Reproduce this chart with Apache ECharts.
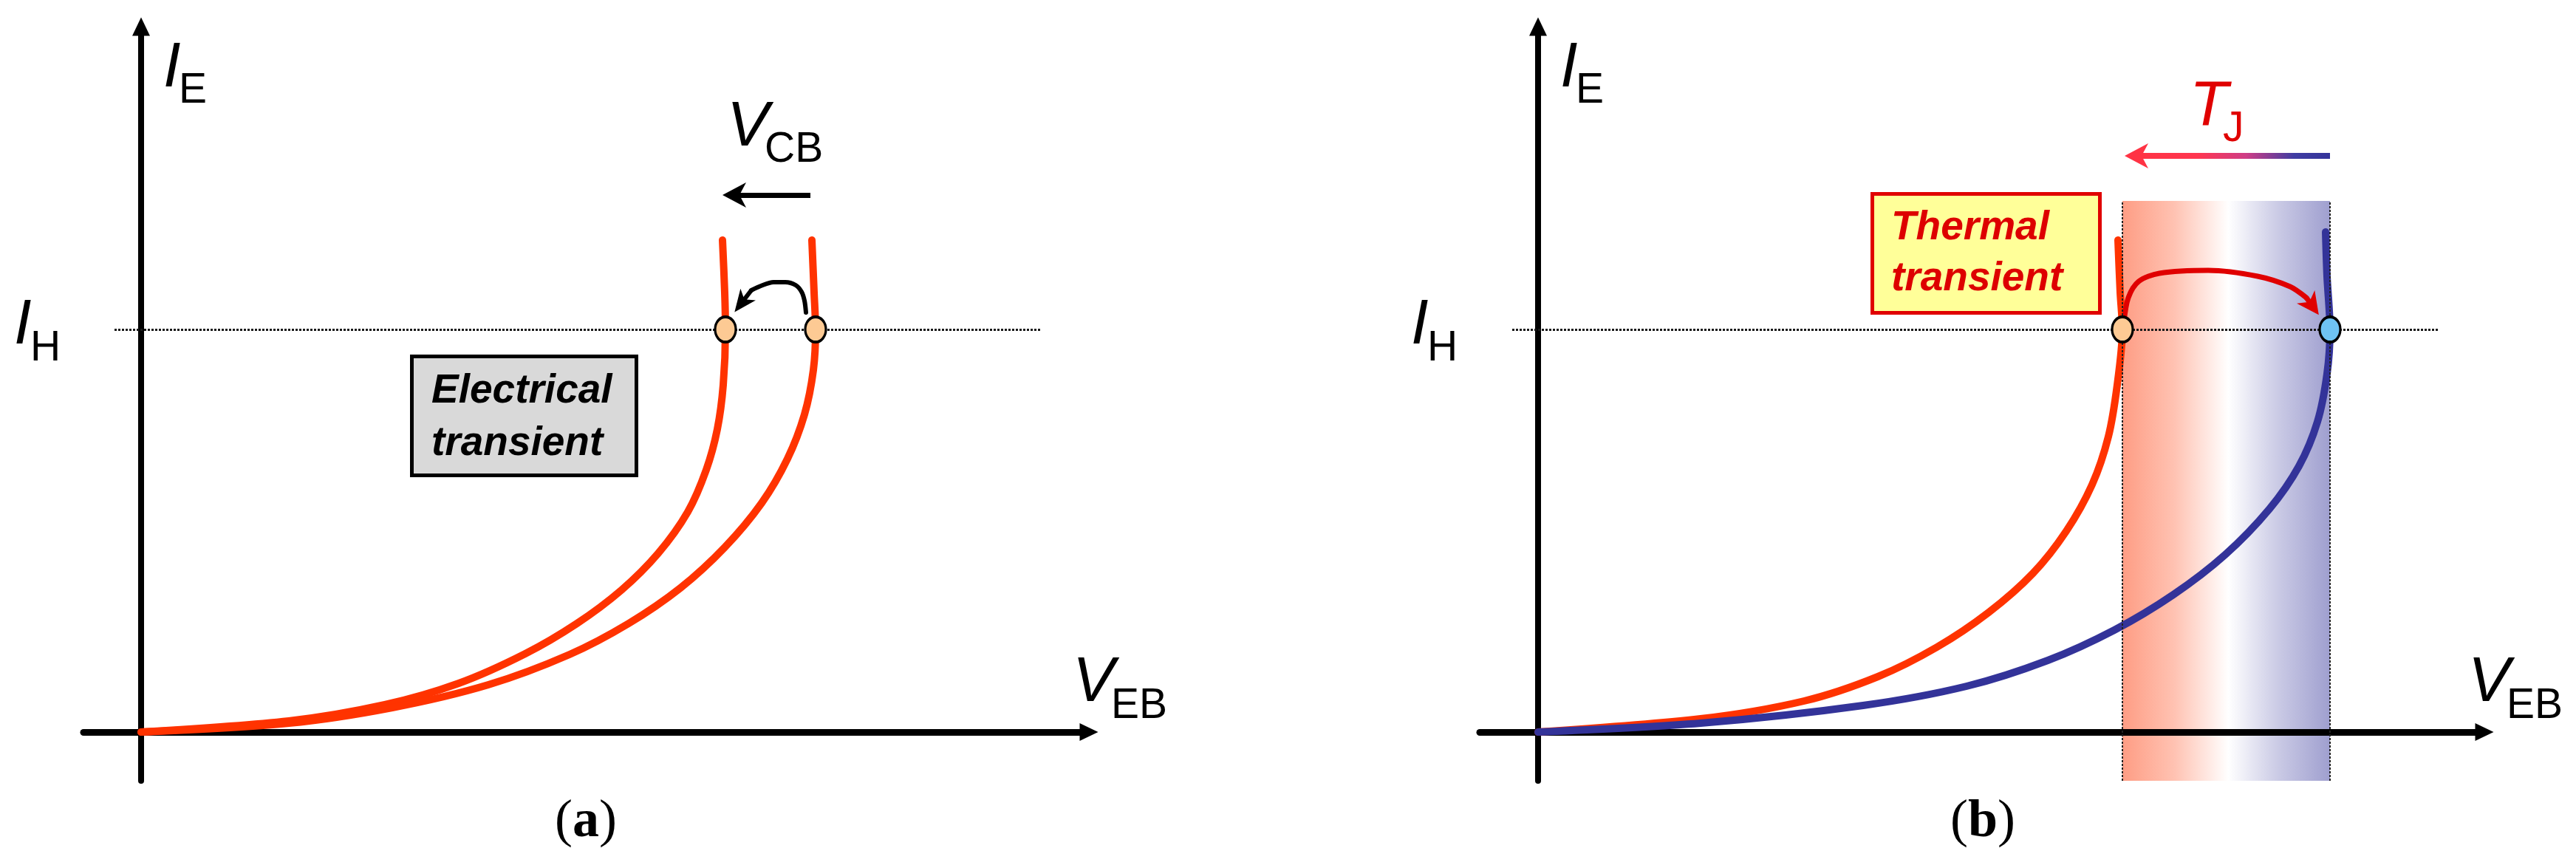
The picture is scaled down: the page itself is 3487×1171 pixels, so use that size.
<!DOCTYPE html>
<html>
<head>
<meta charset="utf-8">
<title>Electrical and thermal transients at the holding point</title>
<script src="https://cdn.jsdelivr.net/npm/echarts@6/dist/echarts.min.js"></script>
<style>
html,body{margin:0;padding:0;background:#ffffff;overflow:hidden;}
#chart{width:3487px;height:1171px;}
</style>
</head>
<body>
<div id="chart"></div>
<script>
// ---------------- data (arbitrary units, origin = axes crossing) ----------------
const xRangeA = [-0.78, 12.83];
const xRangeB = [-0.79, 12.81];
const yRange = [-0.66, 9.55];
const ihLevel = 5.45;
const ihSpanA = [-0.36, 12.19];
const ihSpanB = [-0.35, 12.18];

// panel (a): I_E(V_EB) for two V_CB values
const curveA1 = [[0,0],[2.0,0.15],[3.3,0.37],[4.3,0.66],[5.2,1.06],[5.9,1.47],[6.5,1.92],[7.0,2.42],[7.4,2.98],[7.65,3.55],[7.8,4.1],[7.88,4.7],[7.91,5.45],[7.90,5.95],[7.87,6.66]];
const curveA2 = [[0,0],[2.0,0.12],[3.4,0.33],[4.7,0.64],[5.8,1.05],[6.6,1.47],[7.3,1.95],[7.9,2.5],[8.4,3.1],[8.75,3.7],[8.98,4.3],[9.1,4.9],[9.13,5.45],[9.11,5.95],[9.08,6.66]];
const holdA = [[7.91, 5.45], [9.13, 5.45]];
const arcA = [[9.00,5.68],[8.98,5.84],[8.94,5.96],[8.86,6.05],[8.72,6.09],[8.56,6.09],[8.39,6.04],[8.26,5.98]];
const arcAHead = [8.125, 5.805];
const vcbArrow = [[9.06, 7.27], [8.03, 7.27]];

// panel (b): cold (red) and hot (blue) characteristics
const curveCold = [[0,0],[2.2,0.18],[3.6,0.42],[4.6,0.75],[5.4,1.15],[6.1,1.62],[6.7,2.15],[7.15,2.72],[7.5,3.35],[7.72,4.0],[7.84,4.7],[7.91,5.45],[7.88,5.95],[7.85,6.66]];
const curveHot = [[0,0],[2.2,0.12],[4.4,0.36],[5.8,0.62],[6.9,0.97],[7.8,1.38],[8.6,1.86],[9.3,2.4],[9.9,3.02],[10.3,3.6],[10.55,4.2],[10.68,4.85],[10.72,5.45],[10.68,6.17],[10.66,6.77]];
const holdB = [[7.91, 5.45], [10.72, 5.45]];
const bandX = [7.91, 10.72];
const bandTop = 7.19;
const arcB = [[7.93,5.55],[7.99,5.88],[8.13,6.10],[8.41,6.21],[9.07,6.25],[9.74,6.17],[10.18,6.03],[10.40,5.88]];
const arcBHead = [10.48, 5.77];
const tjArrow = [[10.72, 7.80], [8.18, 7.80], [8.10, 7.80]];

// ---------------- styles ----------------
const RED = '#ff3300', BLUE = '#333399', DRED = '#e00000';
const headPath = 'path://M17,0L34,32L17,23L0,32Z';
const triPath = 'path://M12,0L24,25L0,25Z';
const SANS = '"Liberation Sans", Arial, sans-serif';
const SERIF = '"Liberation Serif", "Times New Roman", serif';

function xAxisDef(grid, range) {
  return {
    gridIndex: grid, type: 'value', min: range[0], max: range[1], z: 2,
    axisLine: { show: true, onZero: true, lineStyle: { color: '#000', width: 9 },
                symbol: ['none', triPath], symbolSize: [25, 25] },
    axisTick: { show: false }, axisLabel: { show: false }, splitLine: { show: false }
  };
}
function yAxisDef(grid) {
  return {
    gridIndex: grid, type: 'value', min: yRange[0], max: yRange[1], z: 2,
    axisLine: { show: true, onZero: true, lineStyle: { color: '#000', width: 8 },
                symbol: ['none', triPath], symbolSize: [25, 25] },
    axisTick: { show: false }, axisLabel: { show: false }, splitLine: { show: false }
  };
}
function lineSeries(name, grid, data, color, width, z, extra) {
  return Object.assign({
    name: name, type: 'line', xAxisIndex: grid, yAxisIndex: grid, data: data,
    symbol: 'none', showSymbol: false, smooth: 0.3, silent: true, animation: false,
    lineStyle: { color: color, width: width, cap: 'round', join: 'round' }, z: z
  }, extra || {});
}
function seg(from, to, style, head, headSize) {
  const a = { coord: from };
  if (style) a.lineStyle = style;
  const b = { coord: to };
  if (head) { b.symbol = head; b.symbolSize = headSize; }
  return [a, b];
}
const dotted = { type: [3, 2], width: 3, color: '#1a1a1a' };
const markBase = { silent: true, z: 5, animation: false, symbol: ['none', 'none'], label: { show: false }, emphasis: { disabled: true } };

function label(xm, ym, main, xs, ys, sub, color) {
  const c = color || '#000';
  return [
    { type: 'text', x: xm, y: ym, z: 10, style: { text: main, font: 'italic 85px ' + SANS, fill: c, align: 'left', verticalAlign: 'middle' } },
    { type: 'text', x: xs, y: ys, z: 10, style: { text: sub, font: '57px ' + SANS, fill: c, align: 'left', verticalAlign: 'middle' } }
  ];
}
function boxText(x, y, t, color) {
  return { type: 'text', x: x, y: y, z: 10, style: { text: t, font: 'italic bold 55px ' + SANS, fill: color, align: 'left', verticalAlign: 'middle' } };
}
function panelTag(x, letter) {
  return { type: 'text', x: x, y: 1113, z: 10, style: {
    text: '{p|(}{b|' + letter + '}{p|)}', align: 'center', verticalAlign: 'middle', fill: '#000',
    rich: { p: { fontSize: 72, fontFamily: SERIF, fontWeight: 'normal', fill: '#000' },
            b: { fontSize: 72, fontFamily: SERIF, fontWeight: 'bold', fill: '#000' } } } };
}

const tjGradient = { type: 'linear', x: 0, y: 0, x2: 1, y2: 0, colorStops: [
  { offset: 0, color: '#ff3344' }, { offset: 0.3, color: '#ff3650' },
  { offset: 0.55, color: '#cf3d86' }, { offset: 0.8, color: '#3f3ca2' }, { offset: 1, color: '#333399' } ] };
const bandGradient = { type: 'linear', x: 0, y: 0, x2: 1, y2: 0, colorStops: [
  { offset: 0, color: '#fe9d84' }, { offset: 0.25, color: '#ffc2b2' },
  { offset: 0.51, color: '#ffffff' }, { offset: 0.75, color: '#cacae5' }, { offset: 1, color: '#9f9fcf' } ] };

const option = {
  animation: false,
  backgroundColor: '#ffffff',
  grid: [
    { left: 113, top: 36, width: 1361, height: 1021, containLabel: false, outerBoundsMode: 'none' },
    { left: 2003, top: 36, width: 1360, height: 1021, containLabel: false, outerBoundsMode: 'none' }
  ],
  xAxis: [xAxisDef(0, xRangeA), xAxisDef(1, xRangeB)],
  yAxis: [yAxisDef(0), yAxisDef(1)],
  series: [
    // ---- panel (a)
    lineSeries('I_E low V_CB', 0, curveA1, RED, 10, 3, {
      markLine: Object.assign({}, markBase, { lineStyle: dotted,
        data: [ seg([ihSpanA[0], ihLevel], [ihSpanA[1], ihLevel]) ] })
    }),
    lineSeries('I_E high V_CB', 0, curveA2, RED, 10, 3),
    lineSeries('electrical transient', 0, arcA, '#000', 6, 4, {
      markLine: Object.assign({}, markBase, { z: 4, lineStyle: { color: '#000', width: 6, type: 'solid' },
        data: [
          seg(arcA[arcA.length - 1], arcAHead, null, headPath, [26, 30]),
          seg(vcbArrow[0], vcbArrow[1], { color: '#000', width: 7, type: 'solid' }, headPath, [34, 32])
        ] })
    }),
    { name: 'holding A', type: 'scatter', xAxisIndex: 0, yAxisIndex: 0, data: holdA, z: 6, silent: true, animation: false,
      symbol: 'circle', symbolSize: [28, 34],
      itemStyle: { color: '#fdca94', borderColor: '#000', borderWidth: 3.5, opacity: 1 } },

    // ---- panel (b)
    lineSeries('I_E cold', 1, curveCold, RED, 10, 3, {
      markArea: { silent: true, z: 1, animation: false, label: { show: false }, emphasis: { disabled: true },
        itemStyle: { color: bandGradient, borderWidth: 0 },
        data: [[ { coord: [bandX[0], yRange[0]] }, { coord: [bandX[1], bandTop] } ]] },
      markLine: Object.assign({}, markBase, { lineStyle: dotted,
        data: [
          seg([ihSpanB[0], ihLevel], [ihSpanB[1], ihLevel]),
          seg([bandX[0], yRange[0]], [bandX[0], bandTop], { type: [3, 2], width: 2, color: '#222' }),
          seg([bandX[1], yRange[0]], [bandX[1], bandTop], { type: [3, 2], width: 2, color: '#222' })
        ] })
    }),
    lineSeries('I_E hot', 1, curveHot, BLUE, 10, 3),
    lineSeries('thermal transient', 1, arcB, DRED, 7, 4, {
      markLine: Object.assign({}, markBase, { z: 4, lineStyle: { color: DRED, width: 7, type: 'solid' },
        data: [
          seg(arcB[arcB.length - 1], arcBHead, null, headPath, [30, 30]),
          seg(tjArrow[0], tjArrow[1], { color: tjGradient, width: 8, type: 'solid' }),
          seg([tjArrow[1][0] + 0.04, tjArrow[1][1]], tjArrow[2], { color: '#ff3344', width: 8, type: 'solid' }, headPath, [34, 32])
        ] })
    }),
    { name: 'holding B', type: 'scatter', xAxisIndex: 1, yAxisIndex: 1, data: holdB, z: 6, silent: true, animation: false,
      symbol: 'circle', symbolSize: [28, 34],
      itemStyle: { color: function (p) { return p.dataIndex === 0 ? '#fdca94' : '#6fc3f3'; },
                   borderColor: '#000', borderWidth: 3.5, opacity: 1 } }
  ],
  graphic: { elements: [].concat(
    label(221, 93, 'I', 242, 123, 'E'),
    label(19, 441, 'I', 41, 472, 'H'),
    label(1452, 925, 'V', 1504, 956, 'EB'),
    label(984, 173, 'V', 1035, 203, 'CB'),
    label(2112, 93, 'I', 2133, 123, 'E'),
    label(1910, 441, 'I', 1932, 472, 'H'),
    label(3341, 925, 'V', 3393, 956, 'EB'),
    label(2964, 145, 'T', 3009, 175, 'J', DRED),
    [
      { type: 'rect', z: 9, shape: { x: 557.5, y: 482.5, width: 304, height: 161 }, style: { fill: '#d9d9d9', stroke: '#000', lineWidth: 5 } },
      boxText(584, 530, 'Electrical', '#000'),
      boxText(584, 601, 'transient', '#000'),
      { type: 'rect', z: 9, shape: { x: 2534.5, y: 262.5, width: 308, height: 161 }, style: { fill: '#ffff99', stroke: DRED, lineWidth: 5 } },
      boxText(2560, 309, 'Thermal', '#dd0000'),
      boxText(2560, 378, 'transient', '#dd0000'),
      panelTag(793, 'a'),
      panelTag(2684, 'b')
    ]
  ) }
};

const chart = echarts.init(document.getElementById('chart'), null, { renderer: 'canvas', width: 3487, height: 1171 });
chart.setOption(option);
</script>
</body>
</html>
